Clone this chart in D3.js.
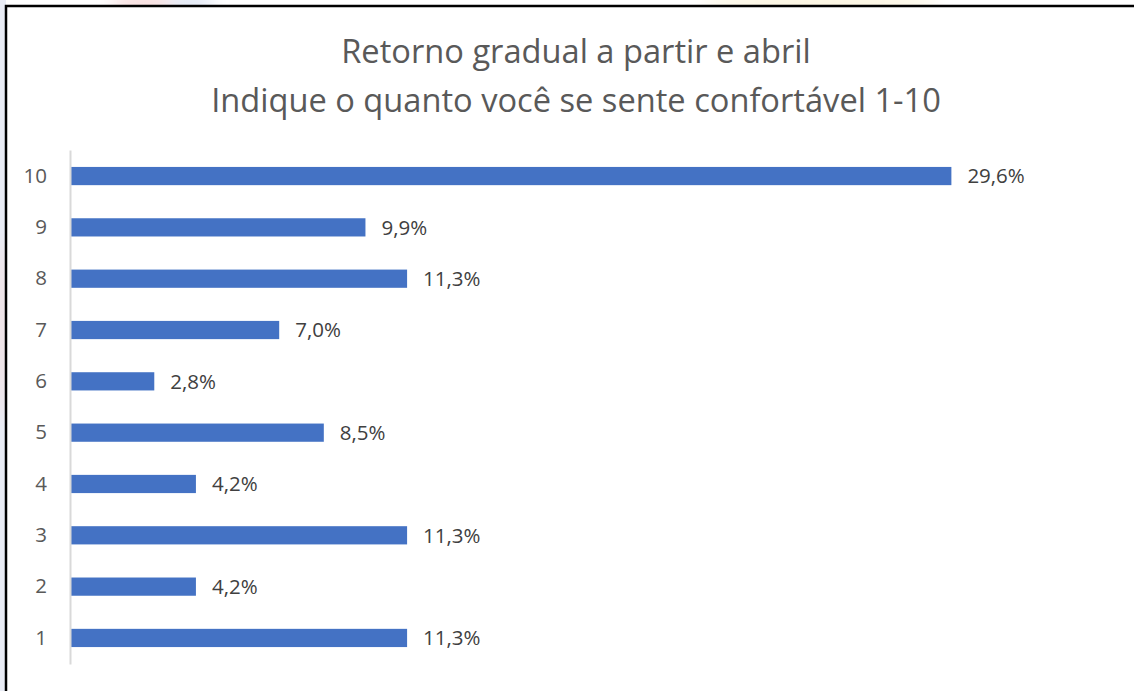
<!DOCTYPE html>
<html>
<head>
<meta charset="utf-8">
<script src="https://cdn.jsdelivr.net/npm/d3@7"></script>
<style>
  html, body { margin: 0; padding: 0; background: #ffffff; }
  svg { display: block; }
</style>
</head>
<body>
<svg id="chart" width="1134" height="691"></svg>
<script>
// Survey answers: comfort level 1-10 and share of respondents (%)
const categories = ["10", "9", "8", "7", "6", "5", "4", "3", "2", "1"];
const values = [29.6, 9.9, 11.3, 7.0, 2.8, 8.5, 4.2, 11.3, 4.2, 11.3];
const titleLines = [
  "Retorno gradual a partir e abril",
  "Indique o quanto você se sente confortável 1-10"
];

const data = categories.map((c, i) => ({ cat: c, value: values[i] }));

const W = 1134, H = 691;
const svg = d3.select("#chart");
const FONT = "'Open Sans', 'Noto Sans', sans-serif";

// Slide backdrop showing around the frame
const defs = svg.append("defs");
const blur = defs.append("filter").attr("id", "soft").attr("x", "-50%").attr("y", "-50%").attr("width", "200%").attr("height", "200%");
blur.append("feGaussianBlur").attr("stdDeviation", 8);
svg.append("rect").attr("x", 0).attr("y", 0).attr("width", W).attr("height", H).attr("fill", "#ffffff");
svg.append("rect").attr("x", 0).attr("y", 0).attr("width", 6).attr("height", H).attr("fill", "#e9ecf5");
const blobs = svg.append("g").attr("filter", "url(#soft)");
blobs.append("ellipse").attr("cx", 150).attr("cy", 2).attr("rx", 40).attr("ry", 8).attr("fill", "#f6d6d6");
blobs.append("ellipse").attr("cx", 190).attr("cy", 2).attr("rx", 25).attr("ry", 8).attr("fill", "#dbe3f3");
blobs.append("ellipse").attr("cx", 820).attr("cy", 2).attr("rx", 120).attr("ry", 8).attr("fill", "#fbf3d8");
blobs.append("ellipse").attr("cx", 2).attr("cy", 330).attr("rx", 6).attr("ry", 90).attr("fill", "#f3dede");

// Chart area
svg.append("rect").attr("x", 6).attr("y", 6).attr("width", W - 6).attr("height", H - 6).attr("fill", "#ffffff");

// Frame (top and left edges)
svg.append("path")
  .attr("d", `M6,${H} L6,6 L${W},6`)
  .attr("fill", "none")
  .attr("stroke", "#000000")
  .attr("stroke-width", 2.5);

// Scales
const y = d3.scaleBand()
  .domain(categories)
  .range([150, 664])
  .paddingInner(0.645)
  .paddingOuter(0.33);

const x = d3.scaleLinear()
  .domain([0, 35])
  .range([71, 1112]);

// Title
const title = svg.append("text")
  .attr("x", 576)
  .attr("text-anchor", "middle")
  .attr("font-family", FONT)
  .attr("fill", "#595959");
title.append("tspan").attr("x", 576).attr("y", 63).text(titleLines[0]);
title.append("tspan").attr("x", 576).attr("y", 112).text(titleLines[1]);
title.attr("font-size", 30);
const line2 = title.select("tspan:nth-child(2)").node();
const w2 = line2.getComputedTextLength();
title.attr("font-size", 30 * 730 / w2);

// Bars
svg.append("g")
  .selectAll("rect")
  .data(data)
  .join("rect")
  .attr("x", x(0))
  .attr("y", d => y(d.cat))
  .attr("width", d => x(d.value) - x(0))
  .attr("height", y.bandwidth())
  .attr("fill", "#4472C4");

// Value labels
const fmt = v => v.toFixed(1).replace(".", ",") + "%";
svg.append("g")
  .selectAll("text")
  .data(data)
  .join("text")
  .attr("x", d => x(d.value) + 16)
  .attr("y", d => y(d.cat) + y.bandwidth() / 2)
  .attr("dy", "0.36em")
  .attr("font-family", FONT)
  .attr("font-size", 20.5)
  .attr("fill", "#404040")
  .text(d => fmt(d.value));

// Category axis
const axis = svg.append("g")
  .attr("transform", `translate(${x(0) - 1},0)`)
  .call(d3.axisLeft(y).tickSize(0).tickPadding(23));
axis.select(".domain").attr("stroke", "#d9d9d9").attr("stroke-width", 2);
axis.selectAll("text")
  .attr("font-family", FONT)
  .attr("font-size", 20.5)
  .attr("fill", "#595959");
</script>
</body>
</html>
